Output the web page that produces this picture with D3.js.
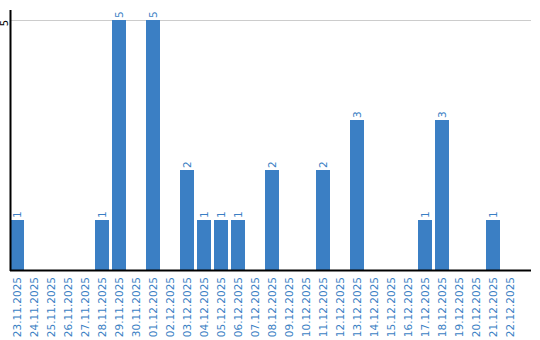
<!DOCTYPE html>
<html>
<head>
<meta charset="utf-8">
<script src="https://cdn.jsdelivr.net/npm/d3@7"></script>
<style>
  body { margin: 0; background: #fff; }
  svg { display: block; font-family: "DejaVu Sans", Verdana, sans-serif; }
</style>
</head>
<body>
<svg id="drawing_region"></svg>
<script>
const dates = ['23.11.2025', '24.11.2025', '25.11.2025', '26.11.2025', '27.11.2025',
    '28.11.2025', '29.11.2025', '30.11.2025', '01.12.2025', '02.12.2025',
    '03.12.2025', '04.12.2025', '05.12.2025', '06.12.2025', '07.12.2025',
    '08.12.2025', '09.12.2025', '10.12.2025', '11.12.2025', '12.12.2025',
    '13.12.2025', '14.12.2025', '15.12.2025', '16.12.2025', '17.12.2025',
    '18.12.2025', '19.12.2025', '20.12.2025', '21.12.2025', '22.12.2025'];
const counts = [1, 0, 0, 0, 0, 1, 5, 0, 5, 0,
    2, 1, 1, 1, 0, 2, 0, 0, 2, 0,
    3, 0, 0, 0, 1, 3, 0, 0, 1, 0];
const yTicks = [5];

const data = dates.map((d, i) => ({ date: d, value: counts[i] }));

const config = {
    width: 540,
    height: 340,
    plot: { left: 10, right: 531, top: 10, bottom: 270 }
};
const plot = config.plot;
const barColor = '#3b7fc4';

const svg = d3.select('#drawing_region')
    .attr('width', config.width)
    .attr('height', config.height);

const xscale = d3.scaleBand()
    .domain(dates)
    .range([plot.left, 517])
    .paddingInner(3 / 17)
    .paddingOuter(0);

const yscale = d3.scaleLinear()
    .domain([0, 5])
    .range([plot.bottom, 20]);

// gridline
svg.selectAll('.grid')
    .data(yTicks)
    .join('line')
    .attr('class', 'grid')
    .attr('x1', plot.left).attr('x2', plot.right)
    .attr('y1', d => yscale(d) + 0.5).attr('y2', d => yscale(d) + 0.5)
    .attr('stroke', '#cccccc')
    .attr('stroke-width', 1);

// bars
svg.selectAll('rect.bar')
    .data(data)
    .join('rect')
    .attr('class', 'bar')
    .attr('x', d => xscale(d.date))
    .attr('y', d => yscale(d.value))
    .attr('width', xscale.bandwidth())
    .attr('height', d => plot.bottom - yscale(d.value))
    .attr('fill', barColor);

// value labels
svg.selectAll('text.val')
    .data(data.filter(d => d.value > 0))
    .join('text')
    .attr('class', 'val')
    .attr('transform', d => `translate(${xscale(d.date) + xscale.bandwidth() / 2}, ${yscale(d.value) - 2}) rotate(-90)`)
    .attr('dy', '0.35em')
    .attr('text-anchor', 'start')
    .attr('font-size', 10.5)
    .attr('fill', barColor)
    .text(d => d.value);

// x tick labels
svg.selectAll('text.xl')
    .data(dates)
    .join('text')
    .attr('class', 'xl')
    .attr('transform', d => `translate(${xscale(d) + xscale.bandwidth() / 2}, 277) rotate(-90)`)
    .attr('dy', '0.35em')
    .attr('text-anchor', 'end')
    .attr('font-size', 10.5)
    .attr('fill', barColor)
    .text(d => d);

// y tick labels
svg.selectAll('text.yl')
    .data(yTicks)
    .join('text')
    .attr('class', 'yl')
    .attr('transform', d => `translate(4.5, ${yscale(d) + 3}) rotate(-90)`)
    .attr('dy', '0.35em')
    .attr('text-anchor', 'middle')
    .attr('font-size', 10)
    .attr('fill', '#000')
    .text(d => d);

// axes lines
svg.append('line')
    .attr('x1', plot.left + 0.5).attr('x2', plot.left + 0.5)
    .attr('y1', plot.top).attr('y2', plot.bottom + 1)
    .attr('stroke', '#000').attr('stroke-width', 2);
svg.append('line')
    .attr('x1', plot.left).attr('x2', plot.right)
    .attr('y1', plot.bottom + 0.5).attr('y2', plot.bottom + 0.5)
    .attr('stroke', '#000').attr('stroke-width', 2);
</script>
</body>
</html>
